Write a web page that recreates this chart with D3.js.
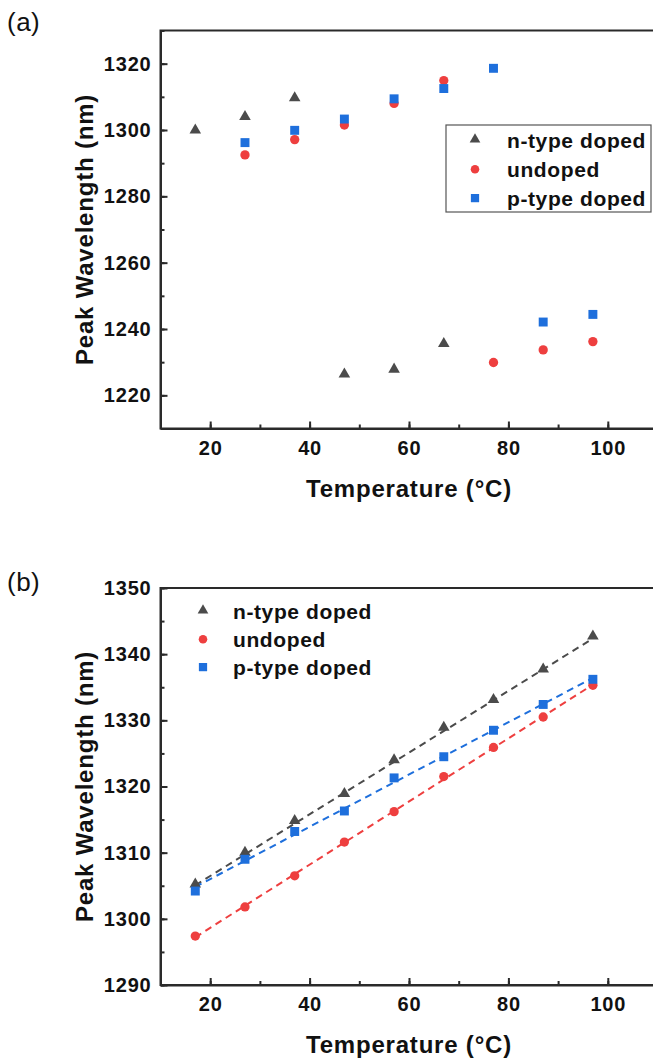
<!DOCTYPE html>
<html lang="en">
<head>
  <meta charset="UTF-8">
  <script src="https://d3js.org/d3.v7.min.js"></script>
  <title>Peak Wavelength vs Temperature</title>
  <style>
    body {
      margin: 0;
      background: #fff;
    }

    svg {
      display: block;
      font-family: "Liberation Sans", Arial, sans-serif;
    }

    .axis path,
    .axis line {
      stroke: #2a2a2a;
      stroke-width: 2px;
    }

    .axis text {
      font-size: 20px;
      font-weight: bold;
      letter-spacing: 0.8px;
      fill: #111;
    }

    .axis-title {
      font-size: 24px;
      font-weight: bold;
      letter-spacing: 0.8px;
      fill: #111;
    }

    .legend text {
      font-size: 21px;
      font-weight: bold;
      letter-spacing: 0.6px;
      fill: #111;
    }

    .panel-label {
      font-size: 26px;
      letter-spacing: 0.5px;
      fill: #111;
    }
  </style>
</head>
<body>
<script>
  // Panel (a) - raw peak positions
  const aNtypeTemp = [17, 27, 37, 47, 57, 67];
  const aNtype = [1299.5, 1303.6, 1309.2, 1225.9, 1227.4, 1235.1];
  const aUndopedTemp = [27, 37, 47, 57, 67, 77, 87, 97];
  const aUndoped = [1292.5, 1297.1, 1301.5, 1308, 1314.9, 1229.9, 1233.7, 1236.2];
  const aPtypeTemp = [27, 37, 47, 57, 67, 77, 87, 97];
  const aPtype = [1296.2, 1299.9, 1303.3, 1309.4, 1312.5, 1318.6, 1242.1, 1244.4];

  // Panel (b) - corrected peak positions
  const bTemp = [17, 27, 37, 47, 57, 67, 77, 87, 97];
  const bNtype = [1305, 1309.8, 1314.6, 1318.7, 1323.8, 1328.7, 1332.9, 1337.5, 1342.5];
  const bUndoped = [1297.4, 1301.8, 1306.5, 1311.6, 1316.2, 1321.5, 1325.9, 1330.5, 1335.3];
  const bPtype = [1304.2, 1309, 1313.2, 1316.3, 1321.3, 1324.5, 1328.5, 1332.4, 1336.2];

  const seriesNames = ["n-type doped", "undoped", "p-type doped"];
  const xTicks = [20, 40, 60, 80, 100];
  const aYTicks = [1220, 1240, 1260, 1280, 1300, 1320];
  const bYTicks = [1290, 1300, 1310, 1320, 1330, 1340, 1350];

  const colors = ["#4b4b4b", "#ee3f3f", "#1e6fdc"];
  const shapes = [d3.symbolTriangle, d3.symbolCircle, d3.symbolSquare];
  const shapeSizes = [58, 68, 80];

  const width = 653;
  const height = 1061;

  const svg = d3.select("body")
          .append("svg")
          .attr("width", width)
          .attr("height", height);

  const x = d3.scaleLinear().domain([10, 110]).range([160.5, 657.5]);
  const fmt = d3.format("d");

  function drawPanel(opts) {
    const y = d3.scaleLinear().domain(opts.yDomain).range([opts.bottom, opts.top]);
    const g = svg.append("g");

    // frame (right side falls outside the picture)
    g.append("rect")
            .attr("x", x.range()[0])
            .attr("y", opts.top)
            .attr("width", x.range()[1] - x.range()[0])
            .attr("height", opts.bottom - opts.top)
            .attr("fill", "none")
            .attr("stroke", "#2a2a2a")
            .attr("stroke-width", 2);

    // minor ticks
    g.append("g")
            .attr("class", "axis")
            .attr("transform", `translate(0,${opts.bottom})`)
            .call(d3.axisBottom(x).tickValues(d3.range(10, 111, 10)).tickSize(-4).tickFormat(""))
            .call(s => s.select(".domain").remove());
    g.append("g")
            .attr("class", "axis")
            .attr("transform", `translate(${x.range()[0]},0)`)
            .call(d3.axisLeft(y).tickValues(opts.yMinor).tickSize(-4).tickFormat(""))
            .call(s => s.select(".domain").remove());

    // major axes
    g.append("g")
            .attr("class", "axis")
            .attr("transform", `translate(0,${opts.bottom})`)
            .call(d3.axisBottom(x).tickValues(xTicks).tickFormat(fmt)
                    .tickSize(-7).tickSizeOuter(0).tickPadding(12));
    g.append("g")
            .attr("class", "axis")
            .attr("transform", `translate(${x.range()[0]},0)`)
            .call(d3.axisLeft(y).tickValues(opts.yTicks).tickFormat(fmt)
                    .tickSize(-7).tickSizeOuter(0).tickPadding(9));

    // axis titles
    g.append("text")
            .attr("class", "axis-title")
            .attr("x", 409)
            .attr("y", opts.bottom + 68)
            .attr("text-anchor", "middle")
            .text("Temperature (\u00B0C)");

    g.append("text")
            .attr("class", "axis-title")
            .attr("transform", `translate(93,${(opts.top + opts.bottom) / 2}) rotate(-90)`)
            .attr("text-anchor", "middle")
            .text("Peak Wavelength (nm)");

    g.append("text")
            .attr("class", "panel-label")
            .attr("x", 7)
            .attr("y", opts.labelY)
            .text(opts.label);

    return {g, y};
  }

  function drawMarkers(g, y, temps, vals, i) {
    g.append("g")
            .selectAll("path")
            .data(temps.map((t, k) => ({t, v: vals[k]})))
            .enter()
            .append("path")
            .attr("d", d3.symbol().type(shapes[i]).size(shapeSizes[i]))
            .attr("transform", d => `translate(${x(d.t)},${y(d.v) - (i === 0 ? 1.5 : 0)})`)
            .attr("fill", colors[i]);
  }

  function drawLegend(g, lx, tx, y0, step) {
    const leg = g.append("g").attr("class", "legend");
    seriesNames.forEach((name, i) => {
      leg.append("path")
              .attr("d", d3.symbol().type(shapes[i]).size(shapeSizes[i] * 0.85))
              .attr("transform", `translate(${lx},${y0 + i * step - (i === 0 ? 1.2 : 0)})`)
              .attr("fill", colors[i]);
      leg.append("text")
              .attr("x", tx)
              .attr("y", y0 + i * step + 7.5)
              .text(name);
    });
    return leg;
  }

  // ---- panel (a)
  const pa = drawPanel({
    top: 30.5, bottom: 428.5, yDomain: [1210, 1330],
    yTicks: aYTicks, yMinor: d3.range(1210, 1331, 10),
    label: "(a)", labelY: 31
  });
  drawMarkers(pa.g, pa.y, aNtypeTemp, aNtype, 0);
  drawMarkers(pa.g, pa.y, aUndopedTemp, aUndoped, 1);
  drawMarkers(pa.g, pa.y, aPtypeTemp, aPtype, 2);

  const legA = drawLegend(pa.g, 475, 507, 140.5, 28.8);
  legA.insert("rect", ":first-child")
          .attr("x", 446)
          .attr("y", 125)
          .attr("width", 205)
          .attr("height", 87)
          .attr("fill", "#fff")
          .attr("stroke", "#555")
          .attr("stroke-width", 1.2);

  // ---- panel (b)
  const pb = drawPanel({
    top: 588, bottom: 985, yDomain: [1290, 1350],
    yTicks: bYTicks, yMinor: d3.range(1290, 1351, 5),
    label: "(b)", labelY: 591
  });

  // linear fits (least squares) drawn as dashed lines
  const line = d3.line().x(d => x(d[0])).y(d => pb.y(d[1]));
  [bNtype, bUndoped, bPtype].forEach((vals, i) => {
    const mx = d3.mean(bTemp);
    const my = d3.mean(vals);
    const slope = d3.sum(bTemp, (t, k) => (t - mx) * (vals[k] - my)) /
            d3.sum(bTemp, t => (t - mx) * (t - mx));
    const ends = d3.extent(bTemp).map(t => [t, my + slope * (t - mx)]);
    pb.g.append("path")
            .attr("d", line(ends))
            .attr("fill", "none")
            .attr("stroke", colors[i])
            .attr("stroke-width", 2)
            .attr("stroke-dasharray", "7,5");
  });

  drawMarkers(pb.g, pb.y, bTemp, bNtype, 0);
  drawMarkers(pb.g, pb.y, bTemp, bUndoped, 1);
  drawMarkers(pb.g, pb.y, bTemp, bPtype, 2);

  drawLegend(pb.g, 203, 233, 611.5, 27.8);
</script>
</body>
</html>
